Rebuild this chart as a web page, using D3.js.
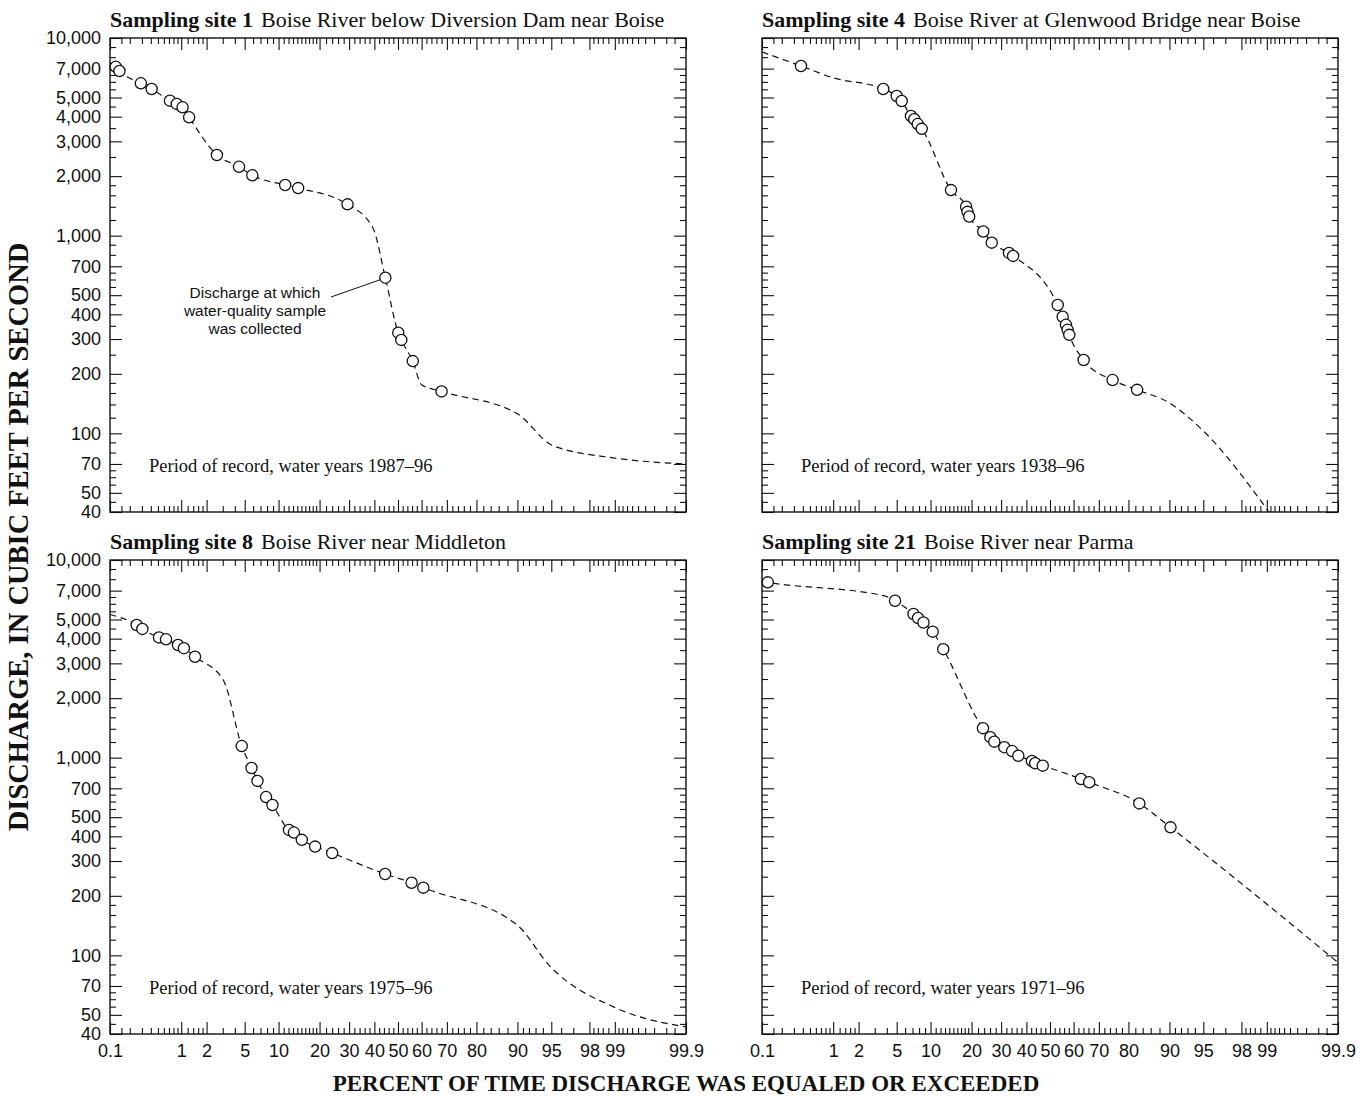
<!DOCTYPE html>
<html><head><meta charset="utf-8">
<script src="https://cdn.jsdelivr.net/npm/d3@7"></script>
<style>body{margin:0;background:#fff} svg{display:block}</style>
</head><body><svg id="c" width="1370" height="1097"></svg>
<script>
// ---------- data ----------
const siteNames = ["Sampling site 1", "Sampling site 4", "Sampling site 8", "Sampling site 21"];
const riverNames = ["Boise River below Diversion Dam near Boise", "Boise River at Glenwood Bridge near Boise", "Boise River near Middleton", "Boise River near Parma"];
const periodLabels = ["Period of record, water years 1987\u201396", "Period of record, water years 1938\u201396", "Period of record, water years 1975\u201396", "Period of record, water years 1971\u201396"];

// sampled discharges (percent exceeded, cubic feet per second)
const site1SampleP = [0.123, 0.14, 0.29, 0.41, 0.72, 0.88, 1.04, 1.25, 2.6, 4.4, 5.9, 11.3, 14.2, 29.4, 44.6, 50.1, 51.4, 56.3, 68.0];
const site1SampleQ = [7150, 6810, 5900, 5520, 4820, 4640, 4460, 3970, 2560, 2230, 2020, 1805, 1740, 1440, 613, 323, 297, 232, 163];
const site4SampleP = [0.377, 3.68, 5.0, 5.58, 6.79, 7.27, 7.79, 8.43, 14.4, 18.4, 18.8, 19.3, 23.7, 26.6, 33.0, 34.6, 53.3, 55.4, 56.8, 57.5, 58.2, 64.1, 74.9, 82.5];
const site4SampleQ = [7220, 5520, 5090, 4800, 4030, 3880, 3670, 3470, 1700, 1400, 1320, 1250, 1050, 922, 818, 790, 446, 389, 354, 334, 315, 235, 186, 166];
const site8SampleP = [0.252, 0.304, 0.517, 0.64, 0.912, 1.08, 1.47, 4.68, 5.8, 6.58, 7.84, 8.9, 12.1, 13.2, 15.1, 18.7, 24.0, 44.5, 55.8, 60.7];
const site8SampleQ = [4690, 4480, 4060, 3970, 3715, 3580, 3240, 1145, 887, 763, 632, 576, 431, 418, 384, 355, 329, 258, 233, 220];
const site21SampleP = [0.123, 4.82, 7.15, 7.84, 8.73, 10.4, 12.6, 23.6, 26.1, 27.5, 31.2, 34.2, 36.7, 42.3, 43.7, 46.9, 63.0, 66.3, 83.1, 90.2];
const site21SampleQ = [7710, 6220, 5330, 5090, 4830, 4340, 3540, 1410, 1270, 1205, 1130, 1080, 1023, 962, 937, 911, 780, 751, 587, 444];

// flow-duration curves (percent exceeded, discharge)
const site1CurveP = [0.1, 0.123, 0.14, 0.29, 0.41, 0.72, 0.88, 1.04, 1.25, 2.6, 4.4, 5.9, 11.3, 14.2, 29.4, 39.4, 44.6, 50.1, 51.4, 56.3, 60.0, 68.0, 90.1, 95.1, 99.0, 99.9];
const site1CurveQ = [7500, 7150, 6810, 5900, 5520, 4820, 4640, 4460, 3970, 2560, 2230, 2020, 1805, 1740, 1440, 1094, 613, 323, 297, 232, 176, 163, 125, 87, 75, 70];
const site4CurveP = [0.1, 0.377, 0.985, 3.68, 5.0, 5.58, 6.79, 7.27, 7.79, 8.43, 14.4, 18.4, 18.8, 19.3, 23.7, 26.6, 33.0, 34.6, 53.3, 55.4, 56.8, 57.5, 58.2, 64.1, 74.9, 82.5, 89.9, 94.7, 99.06];
const site4CurveQ = [8500, 7220, 6300, 5520, 5090, 4800, 4030, 3880, 3670, 3470, 1700, 1400, 1320, 1250, 1050, 922, 818, 790, 446, 389, 354, 334, 315, 235, 186, 166, 143, 106, 40];
const site8CurveP = [0.1, 0.252, 0.304, 0.517, 0.64, 0.912, 1.08, 1.47, 3.04, 4.68, 5.8, 6.58, 7.84, 8.9, 12.1, 13.2, 15.1, 18.7, 24.0, 44.5, 55.8, 60.7, 89.86, 94.86, 99.05, 99.9];
const site8CurveQ = [5300, 4690, 4480, 4060, 3970, 3715, 3580, 3240, 2470, 1145, 887, 763, 632, 576, 431, 418, 384, 355, 329, 258, 233, 220, 143, 88, 54, 43.4];
const site21CurveP = [0.1, 0.123, 3.77, 4.82, 7.15, 7.84, 8.73, 10.4, 12.6, 23.6, 26.1, 27.5, 31.2, 34.2, 36.7, 42.3, 43.7, 46.9, 63.0, 66.3, 83.1, 90.2, 99.9];
const site21CurveQ = [7800, 7710, 6580, 6220, 5330, 5090, 4830, 4340, 3540, 1410, 1270, 1205, 1130, 1080, 1023, 962, 937, 911, 780, 751, 587, 444, 92];

// axis ticks
const xMajorTicks = [0.1, 1, 2, 5, 10, 20, 30, 40, 50, 60, 70, 80, 90, 95, 98, 99, 99.9];
const xMajorLabels = ["0.1", "1", "2", "5", "10", "20", "30", "40", "50", "60", "70", "80", "90", "95", "98", "99", "99.9"];
const xMinorTicks = [0.15, 0.2, 0.3, 0.4, 0.5, 0.6, 0.7, 0.8, 0.9, 1.2, 1.4, 1.6, 1.8, 3, 4, 6, 7, 8, 9,
  11, 12, 13, 14, 15, 16, 17, 18, 19, 22, 24, 26, 28, 32, 34, 36, 38, 42, 44, 46, 48, 52, 54, 56, 58,
  62, 64, 66, 68, 72, 74, 76, 78, 82, 84, 86, 88, 91, 92, 93, 94, 96, 97, 98.2, 98.4, 98.6, 98.8,
  99.1, 99.2, 99.3, 99.4, 99.5, 99.6, 99.7, 99.8, 99.85];
const yMajorTicks = [40, 50, 70, 100, 200, 300, 400, 500, 700, 1000, 2000, 3000, 4000, 5000, 7000, 10000];
const yMinorTicks = [45, 55, 60, 65, 80, 90, 120, 140, 160, 180, 250, 350, 450, 550, 600, 650, 800, 900,
  1200, 1400, 1600, 1800, 2500, 3500, 4500, 5500, 6000, 6500, 8000, 9000];

const noteLines = ["Discharge at which", "water-quality sample", "was collected"];
const yTitle = "DISCHARGE, IN CUBIC FEET PER SECOND";
const xTitle = "PERCENT OF TIME DISCHARGE WAS EQUALED OR EXCEEDED";

// ---------- helpers ----------
function normInv(p) {
  const a = [-3.969683028665376e+01, 2.209460984245205e+02, -2.759285104469687e+02, 1.383577518672690e+02, -3.066479806614716e+01, 2.506628277459239e+00];
  const b = [-5.447609879822406e+01, 1.615858368580409e+02, -1.556989798598866e+02, 6.680131188771972e+01, -1.328068155288572e+01];
  const c = [-7.784894002430293e-03, -3.223964580411365e-01, -2.400758277161838e+00, -2.549732539343734e+00, 4.374664141464968e+00, 2.938163982698783e+00];
  const d = [7.784695709041462e-03, 3.224671290700398e-01, 2.445134137142996e+00, 3.754408661907416e+00];
  const pl = 0.02425, ph = 1 - pl;
  let q, r;
  if (p < pl) { q = Math.sqrt(-2 * Math.log(p)); return (((((c[0]*q+c[1])*q+c[2])*q+c[3])*q+c[4])*q+c[5]) / ((((d[0]*q+d[1])*q+d[2])*q+d[3])*q+1); }
  if (p <= ph) { q = p - 0.5; r = q*q; return (((((a[0]*r+a[1])*r+a[2])*r+a[3])*r+a[4])*r+a[5])*q / (((((b[0]*r+b[1])*r+b[2])*r+b[3])*r+b[4])*r+1); }
  q = Math.sqrt(-2 * Math.log(1 - p));
  return -(((((c[0]*q+c[1])*q+c[2])*q+c[3])*q+c[4])*q+c[5]) / ((((d[0]*q+d[1])*q+d[2])*q+d[3])*q+1);
}
const zOf = p => normInv(p / 100);

const W = 576, H = 474;
const SERIF = "'Liberation Serif','Times New Roman',serif";
const SANS = "'Liberation Sans',Arial,Helvetica,sans-serif";

const panels = [
  {i: 0, x0: 110, y0: 38, sp: site1SampleP, sq: site1SampleQ, cp: site1CurveP, cq: site1CurveQ, showY: true, showX: false},
  {i: 1, x0: 762, y0: 38, sp: site4SampleP, sq: site4SampleQ, cp: site4CurveP, cq: site4CurveQ, showY: false, showX: false},
  {i: 2, x0: 110, y0: 560, sp: site8SampleP, sq: site8SampleQ, cp: site8CurveP, cq: site8CurveQ, showY: true, showX: true},
  {i: 3, x0: 762, y0: 560, sp: site21SampleP, sq: site21SampleQ, cp: site21CurveP, cq: site21CurveQ, showY: false, showX: true}
];

const svg = d3.select("#c");
svg.append("rect").attr("width", 1370).attr("height", 1097).attr("fill", "#fff");

const x = d3.scaleLinear().domain([zOf(0.1), zOf(99.9)]).range([0, W]);
const y = d3.scaleLog().domain([40, 10000]).range([H, 0]);
const fmtY = d3.format(",");

panels.forEach(P => {
  const g = svg.append("g").attr("transform", `translate(${P.x0},${P.y0})`);
  const clipId = "clip" + P.i;
  g.append("clipPath").attr("id", clipId).append("rect").attr("width", W).attr("height", H);

  function styleAxis(sel) {
    sel.select(".domain").remove();
    sel.selectAll(".tick line").attr("stroke", "#111").attr("stroke-width", 1.1);
    sel.selectAll("text").attr("font-family", SANS).attr("font-size", 18).attr("fill", "#111");
  }
  const xMajZ = xMajorTicks.map(zOf), xMinZ = xMinorTicks.map(zOf);
  g.append("g").attr("transform", `translate(0,${H})`)
    .call(d3.axisBottom(x).tickValues(xMinZ).tickSize(-6).tickFormat("")).call(styleAxis);
  g.append("g").attr("transform", `translate(0,${H})`)
    .call(d3.axisBottom(x).tickValues(xMajZ).tickSize(-12).tickPadding(10)
      .tickFormat((d, k) => P.showX ? xMajorLabels[k] : "")).call(styleAxis);
  g.append("g").call(d3.axisTop(x).tickValues(xMinZ).tickSize(-6).tickFormat("")).call(styleAxis);
  g.append("g").call(d3.axisTop(x).tickValues(xMajZ).tickSize(-12).tickFormat("")).call(styleAxis);

  g.append("g").call(d3.axisLeft(y).tickValues(yMinorTicks).tickSize(-6).tickFormat("")).call(styleAxis);
  g.append("g").call(d3.axisLeft(y).tickValues(yMajorTicks).tickSize(-12).tickPadding(9)
    .tickFormat(d => P.showY ? fmtY(d) : "")).call(styleAxis);
  g.append("g").attr("transform", `translate(${W},0)`)
    .call(d3.axisRight(y).tickValues(yMinorTicks).tickSize(-6).tickFormat("")).call(styleAxis);
  g.append("g").attr("transform", `translate(${W},0)`)
    .call(d3.axisRight(y).tickValues(yMajorTicks).tickSize(-12).tickFormat("")).call(styleAxis);

  g.append("rect").attr("width", W).attr("height", H).attr("fill", "none")
    .attr("stroke", "#111").attr("stroke-width", 1.4);

  const curve = P.cp.map((p, k) => ({p, q: P.cq[k]}));
  const line = d3.line().x(d => x(zOf(d.p))).y(d => y(d.q)).curve(d3.curveMonotoneX);
  g.append("path").attr("clip-path", `url(#${clipId})`).attr("d", line(curve))
    .attr("fill", "none").attr("stroke", "#111").attr("stroke-width", 1.2)
    .attr("stroke-dasharray", "6.5,4.5");

  const samples = P.sp.map((p, k) => ({p, q: P.sq[k]}));
  g.selectAll("circle.s").data(samples).join("circle").attr("class", "s")
    .attr("cx", d => x(zOf(d.p))).attr("cy", d => y(d.q)).attr("r", 5.6)
    .attr("fill", "#fff").attr("stroke", "#111").attr("stroke-width", 1.3);

  const t = svg.append("text").attr("x", P.x0).attr("y", P.y0 - 11)
    .attr("font-family", SERIF).attr("font-size", 22).attr("fill", "#111");
  t.append("tspan").attr("font-weight", "bold").text(siteNames[P.i]);
  t.append("tspan").attr("dx", 8).text(riverNames[P.i]);

  g.append("text").attr("x", 39).attr("y", H - 40).attr("font-family", SERIF)
    .attr("font-size", 18.5).attr("fill", "#111").text(periodLabels[P.i]);

  if (P.i === 0) {
    const target = samples[14];
    const tx = x(zOf(target.p)), ty = y(target.q);
    const nx = 145, ny = 260;
    g.append("g").selectAll("text").data(noteLines).join("text")
      .attr("x", nx).attr("y", (d, k) => ny + k * 18)
      .attr("text-anchor", "middle").attr("font-family", SANS).attr("font-size", 15.5)
      .attr("fill", "#111").text(d => d);
    g.append("line").attr("x1", 221).attr("y1", 259).attr("x2", tx - 5).attr("y2", ty + 2)
      .attr("stroke", "#111").attr("stroke-width", 1);
  }
});

svg.append("text").attr("transform", "translate(28,537) rotate(-90)")
  .attr("text-anchor", "middle").attr("font-family", SERIF).attr("font-weight", "bold")
  .attr("font-size", 28.5).attr("fill", "#111").text(yTitle);
svg.append("text").attr("x", 686).attr("y", 1091)
  .attr("text-anchor", "middle").attr("font-family", SERIF).attr("font-weight", "bold")
  .attr("font-size", 23).attr("fill", "#111").text(xTitle);
</script></body></html>
